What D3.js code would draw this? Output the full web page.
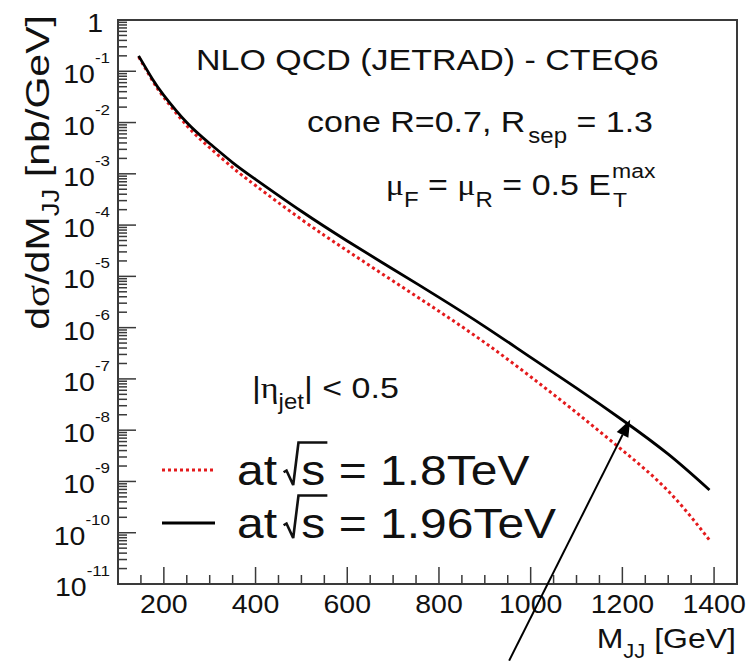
<!DOCTYPE html>
<html>
<head>
<meta charset="utf-8">
<script src="https://cdn.jsdelivr.net/npm/d3@7"></script>
<style>
body { margin: 0; background: #fff; }
svg { display: block; }
text { font-family: "Liberation Sans", Arial, sans-serif; fill: #111; }
.greek { font-family: "Liberation Serif", "DejaVu Serif", serif; }
</style>
</head>
<body>
<script>
"use strict";

// dijet mass [GeV]
var mass = [145, 175, 200, 250, 300, 350, 400, 500, 600, 700, 800, 900, 1000, 1100, 1200, 1300, 1390];
// d(sigma)/dM_JJ [nb/GeV] at sqrt(s) = 1.96 TeV (solid black)
var xs196 = [2.0e-1, 7.1e-2, 3.4e-2, 1.0e-2, 3.9e-3, 1.66e-3, 7.8e-4, 1.86e-4, 4.9e-5, 1.38e-5, 3.9e-6,
	1.05e-6, 2.63e-7, 6.6e-8, 1.58e-8, 3.4e-9, 6.8e-10];
// d(sigma)/dM_JJ [nb/GeV] at sqrt(s) = 1.8 TeV (red dotted)
var xs18 = [1.91e-1, 6.6e-2, 3.1e-2, 8.7e-3, 3.24e-3, 1.32e-3, 5.9e-4, 1.29e-4, 3.16e-5, 8.1e-6, 2.09e-6,
	5.1e-7, 1.10e-7, 2.19e-8, 4.07e-9, 6.5e-10, 7.2e-11];
var xTickLabels = [200, 400, 600, 800, 1000, 1200, 1400];
var yDecades = [-11, -10, -9, -8, -7, -6, -5, -4, -3, -2, -1, 0];
// arrow annotation, data coords [mass, value]
var arrowFrom = [953, 3.2e-13];
var arrowTo = [1217, 1.6e-8];

var W = 753, H = 661;
var SY = 0.885;   // the original figure is squashed vertically
var RED = "#e41a1c";
var AXIS = "#3a3a3a";

var svg = d3.select("body").append("svg")
	.attr("width", W)
	.attr("height", H);

var x = d3.scaleLinear().domain([100, 1450]).range([118, 737]);
var y = d3.scaleLog().domain([1e-11, 1]).range([584, 20]);

function label(px, py, size, anchor) {
	return svg.append("text")
		.attr("transform", "translate(" + px + "," + py + ") scale(1," + SY + ")")
		.attr("font-size", size)
		.attr("text-anchor", anchor || "start");
}

// curves
var line = d3.line()
	.x(function(d) { return x(d[0]); })
	.y(function(d) { return y(d[1]); })
	.curve(d3.curveNatural);

svg.append("path")
	.datum(mass.map(function(m, i) { return [m, xs18[i]]; }))
	.attr("d", line)
	.attr("fill", "none")
	.attr("stroke", RED)
	.attr("stroke-width", 3)
	.attr("stroke-dasharray", "3,3");

svg.append("path")
	.datum(mass.map(function(m, i) { return [m, xs196[i]]; }))
	.attr("d", line)
	.attr("fill", "none")
	.attr("stroke", "#000")
	.attr("stroke-width", 2.8);

// ticks (ROOT style, pointing inward)
var ticks = svg.append("g").attr("stroke", AXIS).attr("stroke-width", 1.5);
yDecades.forEach(function(k) {
	var v = Math.pow(10, k);
	ticks.append("line").attr("x1", x(100)).attr("x2", x(100) + 18)
		.attr("y1", y(v)).attr("y2", y(v));
	if (k < 0) {
		for (var j = 2; j <= 9; j++) {
			ticks.append("line").attr("x1", x(100)).attr("x2", x(100) + 9)
				.attr("y1", y(j * v)).attr("y2", y(j * v));
		}
	}
});
d3.range(100, 1451, 50).forEach(function(m) {
	var major = m % 200 === 0;
	ticks.append("line").attr("x1", x(m)).attr("x2", x(m))
		.attr("y1", y(1e-11)).attr("y2", y(1e-11) - (major ? 17 : 9));
});

// frame
svg.append("rect")
	.attr("x", x(100)).attr("y", y(1))
	.attr("width", x(1450) - x(100)).attr("height", y(1e-11) - y(1))
	.attr("fill", "none").attr("stroke", AXIS).attr("stroke-width", 2);

// tick labels
xTickLabels.forEach(function(m) {
	label(x(m), 613, 28.5, "middle").text(m);
});
yDecades.forEach(function(k) {
	var py = y(Math.pow(10, k));
	if (k === 0) {
		label(103, py + 12, 28.5, "end").text("1");
	} else {
		var t = label(110, py + 12, 28.5, "end");
		t.append("tspan").text("10");
		t.append("tspan").attr("font-size", 17).attr("dy", -20 / SY).text(k);
	}
});

// axis titles
var xt = label(736, 648, 32, "end");
xt.append("tspan").text("M");
xt.append("tspan").attr("font-size", 22).attr("dy", 10 / SY).text("JJ");
xt.append("tspan").attr("dy", -10 / SY).text(" [GeV]");

var yt = svg.append("text")
	.attr("font-size", 34).attr("text-anchor", "end");
yt.append("tspan").text("d");
yt.append("tspan").attr("class", "greek").text("σ");
yt.append("tspan").text("/dM");
yt.append("tspan").attr("font-size", 23).attr("dy", 10).text("JJ");
yt.append("tspan").attr("dy", -10).text(" [nb/GeV]");
// stretch along the text so it runs from y=15 down to y=330 like the original
var ylen = yt.node().getComputedTextLength();
yt.attr("transform", "translate(49,15) rotate(-90) scale(" + (315 / ylen) + ",1)");

// annotations
label(196, 70, 34).text("NLO QCD (JETRAD) - CTEQ6");

var t2 = label(653, 132, 34, "end");
t2.append("tspan").text("cone R=0.7, R");
t2.append("tspan").attr("font-size", 24).attr("dx", 3).attr("dy", 11 / SY).text("sep");
t2.append("tspan").attr("dy", -11 / SY).text(" = 1.3");

var t3 = label(611, 195, 34, "end");
t3.append("tspan").attr("class", "greek").text("μ");
t3.append("tspan").attr("font-size", 24).attr("dy", 12 / SY).text("F");
t3.append("tspan").attr("dy", -12 / SY).text(" = ");
t3.append("tspan").attr("class", "greek").text("μ");
t3.append("tspan").attr("font-size", 24).attr("dy", 12 / SY).text("R");
t3.append("tspan").attr("dy", -12 / SY).text(" = 0.5 E");
label(612, 178, 23).text("max");
label(613, 207, 23).text("T");

var t4 = label(252, 398, 34);
t4.append("tspan").text("|");
t4.append("tspan").attr("class", "greek").text("η");
t4.append("tspan").attr("font-size", 24).attr("dy", 11 / SY).text("jet");
t4.append("tspan").attr("dy", -11 / SY).text("| < 0.5");

// legend
var legendRows = [
	{ text: "1.8TeV", color: RED, dash: "3,3", base: 485, ly: 470 },
	{ text: "1.96TeV", color: "#000", dash: null, base: 538, ly: 523 }
];
legendRows.forEach(function(r) {
	svg.append("line")
		.attr("x1", 162).attr("x2", 215).attr("y1", r.ly).attr("y2", r.ly)
		.attr("stroke", r.color).attr("stroke-width", 3)
		.attr("stroke-dasharray", r.dash);
	var f = 48;
	var g = svg.append("g")
		.attr("transform", "translate(237," + r.base + ") scale(1," + SY + ")");
	var t = g.append("text").attr("font-size", f);
	t.append("tspan").text("at ");
	t.append("tspan").attr("dx", 11).text("s = " + r.text);
	// radical sign drawn by hand, like TLatex #sqrt
	var node = t.node();
	var s0 = node.getStartPositionOfChar(3).x;
	var s1 = node.getEndPositionOfChar(3).x;
	g.append("path")
		.attr("d", "M" + (s0 - 0.37 * f) + "," + (-0.30 * f) +
			"L" + (s0 - 0.31 * f) + "," + (-0.34 * f) +
			"L" + (s0 - 0.17 * f) + ",0" +
			"L" + (s0 - 0.06 * f) + "," + (-1.0 * f) +
			"L" + (s1 + 2) + "," + (-1.0 * f))
		.attr("fill", "none").attr("stroke", "#111").attr("stroke-width", 2.6);
});

// arrow pointing at the 1.96 TeV curve
var ax0 = x(arrowFrom[0]), ay0 = y(arrowFrom[1]);
var ax1 = x(arrowTo[0]), ay1 = y(arrowTo[1]);
var ang = Math.atan2(ay1 - ay0, ax1 - ax0);
var hl = 17, hw = 6.5;
var bx = ax1 - hl * Math.cos(ang), by = ay1 - hl * Math.sin(ang);
svg.append("line")
	.attr("x1", ax0).attr("y1", ay0).attr("x2", bx).attr("y2", by)
	.attr("stroke", "#000").attr("stroke-width", 2);
svg.append("path")
	.attr("d", "M" + ax1 + "," + ay1 +
		"L" + (bx + hw * Math.sin(ang)) + "," + (by - hw * Math.cos(ang)) +
		"L" + (bx - hw * Math.sin(ang)) + "," + (by + hw * Math.cos(ang)) + "Z")
	.attr("fill", "#000");
</script>
</body>
</html>
